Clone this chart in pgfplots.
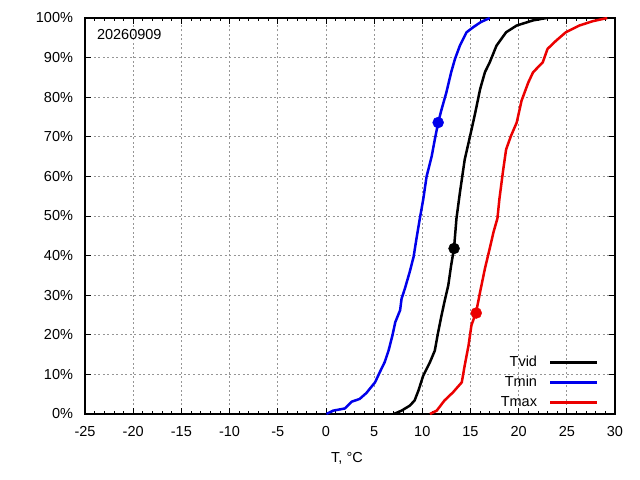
\documentclass[border=0pt]{standalone}
\usepackage{pgfplots}
\pgfplotsset{compat=1.18}
\usepackage{fontspec}
\setmainfont{Liberation Sans}
\definecolor{cblue}{RGB}{0,0,235}
\definecolor{cred}{RGB}{235,0,0}
\definecolor{cgrid}{RGB}{150,150,150}
\begin{document}
\fontsize{14.5bp}{17bp}\selectfont
\begin{tikzpicture}
\path[use as bounding box] (-85bp,-66bp) rectangle (555bp,414bp);
\begin{axis}[
  at={(0,0)}, anchor=south west,
  scale only axis, width=530bp, height=396bp,
  xmin=-25, xmax=30, ymin=0, ymax=100,
  xtick={-25,-20,...,30},
  xticklabels={-25,-20,-15,-10,-5,0,5,10,15,20,25,30},
  ytick={0,10,...,100},
  yticklabels={0\%,10\%,20\%,30\%,40\%,50\%,60\%,70\%,80\%,90\%,100\%},
  minor x tick num=4,
  major tick length=6bp, minor tick length=3bp,
  tick style={black, line width=0.8bp},
  axis line style={black, line width=1.2bp},
  grid=major,
  major grid style={cgrid, line width=0.8bp, dash pattern=on 2bp off 2.5bp},
  xticklabel style={yshift=-7bp},
  yticklabel style={xshift=-7bp},
  xlabel={T, °C},
  xlabel style={yshift=-6bp, xshift=-3bp},
  /pgf/number format/assume math mode=true,
  legend cell align=right,
  legend plot pos=right,
  legend style={draw=none, fill=none, at={(1,0)}, anchor=south east,
    xshift=-14bp, yshift=1bp, row sep=3.5bp, inner sep=2bp,
    nodes={inner sep=2bp}},
  legend image code/.code={\path (0bp,0bp); \draw[#1, line width=3bp] (10bp,0bp) -- (57bp,0bp);},
  clip=true,
]
\addplot[black, line width=2.5bp, line join=round] coordinates {
(7.05,0) (7.85,0.85) (8.7,2.1) (9.2,3.4) (9.6,5.9) (10.1,9.7) (10.8,13.1)
(11.3,16.0) (11.65,20.7) (12.0,24.9) (12.3,28.3) (12.7,32.5) (13.0,37.6)
(13.3,42.0) (13.55,49.4) (13.9,55.8) (14.4,64.2) (15.0,70.6) (15.5,76.1)
(16.0,82) (16.5,86.3) (17.0,88.8) (17.7,93) (18.7,96.4) (19.8,98.1)
(21.5,99.4) (22.9,100)
};
\addlegendentry{Tvid}
\addplot[cblue, line width=2.5bp, line join=round] coordinates {
(0.05,0) (0.76,0.85) (1.97,1.4) (2.66,3.1) (3.5,3.8) (4.2,5.3) (5.1,8.0)
(5.6,10.6) (6.1,13.1) (6.5,16.0) (6.9,19.8) (7.2,23.2) (7.7,26.2)
(7.85,29.1) (8.2,31.7) (8.7,35.9) (9.1,39.7) (9.4,44.3) (9.75,49.4)
(10.1,54.2) (10.45,60) (10.97,65) (11.3,69.3) (11.66,73.7) (12.0,76.9)
(12.5,81.2) (13.0,86.3) (13.4,89.7) (13.9,93) (14.6,96.4) (15.3,97.7)
(16.1,99) (17.0,100)
};
\addlegendentry{Tmin}
\addplot[cred, line width=2.5bp, line join=round] coordinates {
(10.8,0) (11.5,0.85) (12.3,3.4) (13.2,5.5) (14.1,8.0) (14.4,12.2)
(14.8,17.3) (15.1,22.4) (15.6,25.8) (16.0,30.8) (16.5,36.7) (17.0,41.8)
(17.4,46.0) (17.8,49.4) (18.0,54.2) (18.4,61.7) (18.7,66.8) (19.2,70.2)
(19.8,73.6) (20.3,79.1) (21.0,83.7) (21.5,86.3) (22.5,88.8) (23.0,92.2)
(23.9,94.3) (24.9,96.4) (26.3,98.1) (27.7,99.2) (29.2,100)
};
\addlegendentry{Tmax}
\addplot[only marks, mark=*, mark size=5.5bp, black, forget plot] coordinates {(13.3,41.8)};
\addplot[only marks, mark=*, mark size=5.5bp, cblue, forget plot] coordinates {(11.65,73.6)};
\addplot[only marks, mark=*, mark size=5.5bp, cred, forget plot] coordinates {(15.6,25.5)};
\node[anchor=west] at (rel axis cs:0,1) [xshift=7bp, yshift=-17bp] {20260909};
\end{axis}
\end{tikzpicture}
\end{document}
